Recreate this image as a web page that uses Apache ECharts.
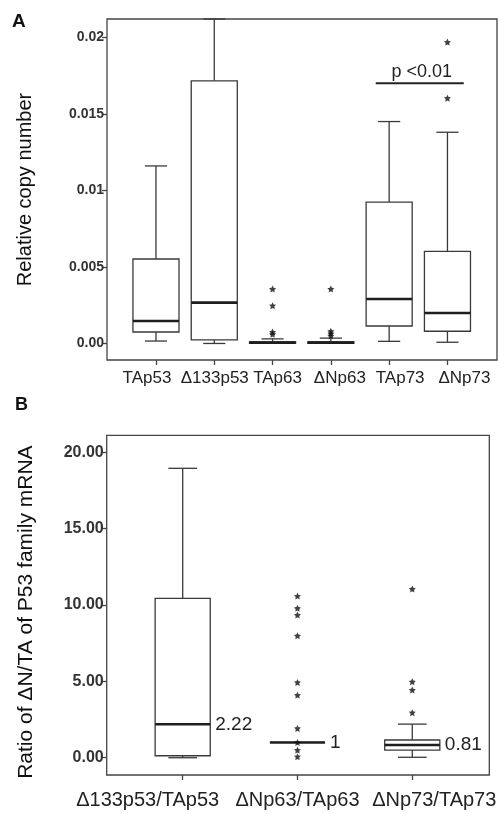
<!DOCTYPE html>
<html><head><meta charset="utf-8">
<script src="https://cdn.jsdelivr.net/npm/echarts@6/dist/echarts.min.js"></script>
<style>html,body{margin:0;padding:0;background:#fff}#c{width:500px;height:815px}</style>
</head><body><div id="c"></div>
<script>
// ---------- Panel A data ----------
const catsA = ['TAp53', 'Δ133p53', 'TAp63', 'ΔNp63', 'TAp73', 'ΔNp73'];
// [low whisker, Q1, median, Q3, high whisker]
const boxA = [
  [0.00016, 0.00075, 0.00147, 0.00552, 0.0116],
  [0.00000, 0.00023, 0.00267, 0.01716, 0.0212],
  [0.00000, 0.00000, 0.00005, 0.00012, 0.00030],
  [0.00000, 0.00000, 0.00005, 0.00012, 0.00035],
  [0.00014, 0.00114, 0.00291, 0.00923, 0.0145],
  [0.00008, 0.00080, 0.00199, 0.00602, 0.0138]
];
const outliersA = [
  [2, 0.00356], [2, 0.00247], [2, 0.00075], [2, 0.00060],
  [3, 0.00356], [3, 0.00080], [3, 0.00065], [3, 0.00050],
  [5, 0.01969], [5, 0.01603]
];
const yTicksA = [0, 0.005, 0.01, 0.015, 0.02];
const yLabelsA = ['0.00', '0.005', '0.01', '0.015', '0.02'];
const pAnnot = [[3.77, 5.28, 0.0170]];
const pText = 'p <0.01';

// ---------- Panel B data ----------
const catsB = ['Δ133p53/TAp53', 'ΔNp63/TAp63', 'ΔNp73/TAp73'];
const boxB = [
  [0.00, 0.13, 2.19, 10.43, 18.94],
  [1.00, 1.00, 1.00, 1.00, 1.00],
  [0.03, 0.50, 0.83, 1.16, 2.20]
];
const medianLabelsB = ['2.22', '1', '0.81'];
const outliersB = [
  [1, 10.58], [1, 9.78], [1, 9.34], [1, 7.98], [1, 4.93], [1, 4.10],
  [1, 1.92], [1, 1.00], [1, 0.50], [1, 0.07],
  [2, 11.04], [2, 4.97], [2, 4.43], [2, 2.95]
];
const yTicksB = [0, 5, 10, 15, 20];
const yLabelsB = ['0.00', '5.00', '10.00', '15.00', '20.00'];

// ---------- layout / style ----------
const FONT = 'Liberation Sans, Arial, sans-serif';
const STROKE = '#3a3a3a';
const STAR = 'path://M0,-10 L2.9,-4 L9.5,-3.1 L4.8,1.5 L5.9,8.1 L0,5 L-5.9,8.1 L-4.8,1.5 L-9.5,-3.1 L-2.9,-4 Z';
// horizontal nudges (px) of the category labels relative to their ticks, as in the original figure
const labelShiftA = [-9, 0.5, 5, 9, 11, 17];
const labelShiftB = [-35, 0, 22];

function boxRenderer(ratio, capRatio, labels) {
  return function (params, api) {
    const x = api.value(0);
    const lo = api.value(1), q1 = api.value(2), med = api.value(3), q3 = api.value(4), hi = api.value(5);
    const band = api.size([1, 0])[0];
    const w = band * ratio, cw = band * capRatio;
    const pHi = api.coord([x, hi]), pQ3 = api.coord([x, q3]), pMed = api.coord([x, med]);
    const pQ1 = api.coord([x, q1]), pLo = api.coord([x, lo]);
    const cx = pMed[0];
    const ls = { stroke: STROKE, lineWidth: 1.3, fill: null };
    const children = [];
    if (hi > q3) {
      children.push({ type: 'line', shape: { x1: cx, y1: pHi[1], x2: cx, y2: pQ3[1] }, style: ls });
      children.push({ type: 'line', shape: { x1: cx - cw / 2, y1: pHi[1], x2: cx + cw / 2, y2: pHi[1] }, style: ls });
    }
    if (lo < q1) {
      children.push({ type: 'line', shape: { x1: cx, y1: pQ1[1], x2: cx, y2: pLo[1] }, style: ls });
      children.push({ type: 'line', shape: { x1: cx - cw / 2, y1: pLo[1], x2: cx + cw / 2, y2: pLo[1] }, style: ls });
    }
    children.push({ type: 'rect', shape: { x: cx - w / 2, y: pQ3[1], width: w, height: pQ1[1] - pQ3[1] }, style: { stroke: STROKE, lineWidth: 1.3, fill: '#fff' } });
    children.push({ type: 'line', shape: { x1: cx - w / 2, y1: pMed[1], x2: cx + w / 2, y2: pMed[1] }, style: { stroke: '#1e1e1e', lineWidth: 2.6 } });
    if (labels) {
      children.push({ type: 'text', x: cx + w / 2 + 5, y: pMed[1], style: { text: labels[params.dataIndex], fill: '#222', font: '19px ' + FONT, textAlign: 'left', textVerticalAlign: 'middle' } });
    }
    return { type: 'group', children: children };
  };
}

function catLabelRenderer(cats, shifts, fontSize, gap) {
  return function (params, api) {
    const i = api.value(0);
    const p = api.coord([i, api.value(1)]);
    const cs = params.coordSys;
    return {
      type: 'text', x: p[0] + shifts[i], y: cs.y + cs.height + gap,
      style: { text: cats[i], fill: '#222', font: fontSize + 'px ' + FONT, textAlign: 'center', textVerticalAlign: 'top' }
    };
  };
}

function fmtFrom(ticks, labels) {
  return function (v) {
    const i = ticks.findIndex(t => Math.abs(t - v) < 1e-9);
    return i >= 0 ? labels[i] : '';
  };
}

const chart = echarts.init(document.getElementById('c'), null, { renderer: 'canvas' });
chart.setOption({
  animation: false,
  backgroundColor: '#fff',
  textStyle: { fontFamily: FONT },
  title: [
    { text: 'A', left: 7, top: 7, textStyle: { fontSize: 19, fontWeight: 'bold', color: '#111', fontFamily: FONT } },
    { text: 'B', left: 10, top: 391, textStyle: { fontSize: 18, fontWeight: 'bold', color: '#111', fontFamily: FONT } }
  ],
  grid: [
    { left: 107, top: 19, width: 390, height: 341, show: true, borderColor: '#444', borderWidth: 1.3, backgroundColor: '#fff' },
    { left: 106.7, top: 435.3, width: 382.6, height: 339.7, show: true, borderColor: '#444', borderWidth: 1.3, backgroundColor: '#fff' }
  ],
  xAxis: [
    {
      gridIndex: 0, type: 'value', min: -0.84, max: 5.85,
      splitLine: { show: false }, axisLine: { show: false, onZero: false },
      axisTick: { show: true, customValues: catsA.map((c, i) => i), length: 5, lineStyle: { color: '#444', width: 1.3 } },
      axisLabel: { show: false }
    },
    {
      gridIndex: 1, type: 'value', min: -0.662, max: 2.671,
      splitLine: { show: false }, axisLine: { show: false, onZero: false },
      axisTick: { show: true, customValues: catsB.map((c, i) => i), length: 5, lineStyle: { color: '#444', width: 1.3 } },
      axisLabel: { show: false }
    }
  ],
  yAxis: [
    {
      gridIndex: 0, type: 'value', min: -0.00108, max: 0.0212,
      splitLine: { show: false }, axisLine: { show: false, onZero: false },
      axisTick: { show: true, customValues: yTicksA, length: 5, lineStyle: { color: '#444', width: 1.3 } },
      axisLabel: { show: true, customValues: yTicksA, formatter: fmtFrom(yTicksA, yLabelsA), fontSize: 14, fontWeight: 'bold', color: '#333', margin: 3, fontFamily: FONT, showMinLabel: true, showMaxLabel: true },
      name: 'Relative copy number', nameLocation: 'middle', nameGap: 72, nameRotate: 90,
      nameTextStyle: { fontSize: 20, color: '#111', fontFamily: FONT }
    },
    {
      gridIndex: 1, type: 'value', min: -1.13, max: 21.1,
      splitLine: { show: false }, axisLine: { show: false, onZero: false },
      axisTick: { show: true, customValues: yTicksB, length: 5, lineStyle: { color: '#444', width: 1.3 } },
      axisLabel: { show: true, customValues: yTicksB, formatter: fmtFrom(yTicksB, yLabelsB), fontSize: 16, fontWeight: 'bold', color: '#333', margin: 3, fontFamily: FONT, showMinLabel: true, showMaxLabel: true },
      name: 'Ratio of ΔN/TA of P53 family mRNA', nameLocation: 'middle', nameGap: 70, nameRotate: 90,
      nameTextStyle: { fontSize: 21, color: '#111', fontFamily: FONT, padding: [0, 0, 0, -14] }
    }
  ],
  series: [
    {
      type: 'custom', xAxisIndex: 0, yAxisIndex: 0,
      renderItem: boxRenderer(0.79, 0.38, null),
      encode: { x: 0, y: [1, 2, 3, 4, 5] },
      data: boxA.map((b, i) => [i].concat(b)), z: 2
    },
    {
      type: 'scatter', xAxisIndex: 0, yAxisIndex: 0, symbol: STAR, symbolSize: 7,
      itemStyle: { color: '#111' }, data: outliersA, z: 3
    },
    {
      type: 'custom', xAxisIndex: 0, yAxisIndex: 0,
      renderItem: function (params, api) {
        const p1 = api.coord([api.value(0), api.value(2)]);
        const p2 = api.coord([api.value(1), api.value(2)]);
        return {
          type: 'group', children: [
            { type: 'line', shape: { x1: p1[0], y1: p1[1], x2: p2[0], y2: p2[1] }, style: { stroke: '#222', lineWidth: 2 } },
            { type: 'text', x: (p1[0] + p2[0]) / 2 + 2, y: p1[1] - 2, style: { text: pText, fill: '#222', font: '18px ' + FONT, textAlign: 'center', textVerticalAlign: 'bottom' } }
          ]
        };
      },
      encode: { x: [0, 1], y: 2 },
      data: pAnnot, z: 4
    },
    {
      type: 'custom', xAxisIndex: 0, yAxisIndex: 0, clip: false, silent: true,
      renderItem: catLabelRenderer(catsA, labelShiftA, 17, 10),
      encode: { x: 0, y: 1 },
      data: catsA.map((c, i) => [i, 0]), z: 5
    },
    {
      type: 'custom', xAxisIndex: 1, yAxisIndex: 1,
      renderItem: boxRenderer(0.48, 0.25, medianLabelsB),
      encode: { x: 0, y: [1, 2, 3, 4, 5] },
      data: boxB.map((b, i) => [i].concat(b)), z: 2
    },
    {
      type: 'scatter', xAxisIndex: 1, yAxisIndex: 1, symbol: STAR, symbolSize: 7,
      itemStyle: { color: '#111' }, data: outliersB, z: 3
    },
    {
      type: 'custom', xAxisIndex: 1, yAxisIndex: 1, clip: false, silent: true,
      renderItem: catLabelRenderer(catsB, labelShiftB, 20, 15),
      encode: { x: 0, y: 1 },
      data: catsB.map((c, i) => [i, 0]), z: 5
    }
  ]
});
</script>
</body></html>
